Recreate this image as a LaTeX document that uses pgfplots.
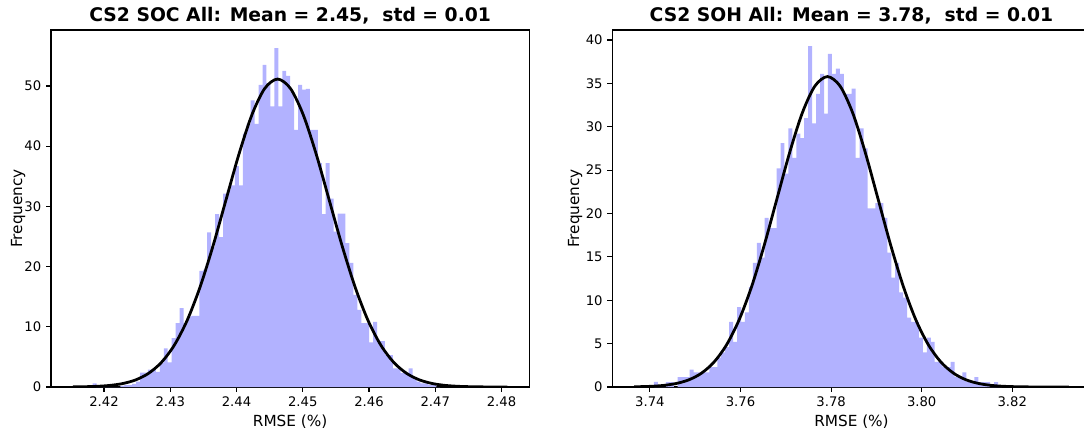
\documentclass[border=0pt]{standalone}
\usepackage{pgfplots}
\pgfplotsset{compat=1.18}
\usepackage{fontspec}
\setmainfont{DejaVu Sans}
\definecolor{histblue}{RGB}{178,178,255}
\pgfplotsset{
  mystyle/.style={
    scale only axis,
    width=344.4pt, height=257.04pt,
    anchor=south west,
    ymin=0,
    axis line style={line width=0.8pt, black},
    tick align=outside, tick pos=left,
    major tick length=3.5pt,
    every tick/.style={black, line width=0.8pt},
    /pgf/number format/assume math mode=true,
    tick label style={font=\fontsize{9.5}{11}\selectfont},
    scaled x ticks=false, scaled y ticks=false,
    xticklabel style={/pgf/number format/fixed, /pgf/number format/precision=2, /pgf/number format/fixed zerofill},
    label style={font=\fontsize{11}{13}\selectfont},
    title style={font=\fontsize{13.5}{15}\selectfont\bfseries, at={(axis description cs:0.5,1)}, anchor=base},
    xlabel style={at={(axis description cs:0.5,0)}, anchor=base, yshift=-28.5pt},
  }
}
\begin{document}
\begin{tikzpicture}
\path[use as bounding box] (0,0) rectangle (780.48pt,313.2pt);
% ---------------- Left: SOC ----------------
\begin{axis}[mystyle, at={(36.72pt,34.56pt)},
  xmin=2.4120, xmax=2.4842, ymax=59.3,
  xtick={2.42,2.43,2.44,2.45,2.46,2.47,2.48},
  ytick={0,10,20,30,40,50},
  ylabel style={at={(axis description cs:-0.0606,0.5)}, anchor=base},
  title={CS2 SOC All: Mean = 2.45,\ \ std = 0.01},
  xlabel={RMSE (\%)}, ylabel={Frequency}]
\addplot[fill=histblue, draw=none, const plot] coordinates {
(2.41830,0.6) (2.41890,0) (2.41949,0) (2.42009,0) (2.42068,0)
(2.42128,0) (2.42188,0) (2.42247,0.2) (2.42307,0.3) (2.42366,0.3)
(2.42426,0.5) (2.42486,0.9) (2.42545,2.4) (2.42605,2.4) (2.42664,2.9)
(2.42724,2.9) (2.42784,2.5) (2.42843,4.0) (2.42903,6.4) (2.42962,4.1)
(2.43022,8.1) (2.43082,10.6) (2.43141,13.1) (2.43201,10.6) (2.43260,11.7)
(2.43320,11.8) (2.43380,11.8) (2.43439,19.3) (2.43499,19.5) (2.43558,25.7)
(2.43618,23.3) (2.43678,28.7) (2.43737,24.9) (2.43797,32.1) (2.43856,32.8)
(2.43916,33.5) (2.43976,36.7) (2.44035,33.5) (2.44095,42.1) (2.44154,43.7)
(2.44214,47.6) (2.44274,43.7) (2.44333,50.2) (2.44393,53.5) (2.44452,50.5)
(2.44512,46.6) (2.44572,56.3) (2.44631,46.6) (2.44691,52.5) (2.44750,51.7)
(2.44810,49.1) (2.44870,42.7) (2.44929,50.2) (2.44989,49.4) (2.45048,49.5)
(2.45108,42.7) (2.45168,42.7) (2.45227,37.2) (2.45287,28.7) (2.45346,37.2)
(2.45406,31.3) (2.45466,25.8) (2.45525,28.8) (2.45585,28.8) (2.45644,23.9)
(2.45704,20.6) (2.45764,15.3) (2.45823,12.8) (2.45883,10.6) (2.45942,10.6)
(2.46002,7.4) (2.46062,10.8) (2.46121,7.6) (2.46181,7.6) (2.46240,5.3)
(2.46300,5.3) (2.46360,3.1) (2.46419,3.1) (2.46479,2.3) (2.46538,2.3)
(2.46598,3.1) (2.46658,1.5) (2.46717,0.9) (2.46777,0.6) (2.46836,0.6)
(2.46896,0.3) (2.46956,0.3) (2.47015,0) (2.47075,0)
} \closedcycle;
\addplot[black, line width=2pt, smooth] coordinates {
(2.4153,0.021) (2.41695,0.046) (2.4189,0.112) (2.42085,0.260) (2.4228,0.568)
(2.42475,1.166) (2.4267,2.248) (2.42865,4.070) (2.4306,6.923) (2.43255,11.062)
(2.4345,16.606) (2.43645,23.418) (2.4384,31.024) (2.44035,38.610) (2.4423,45.140)
(2.44425,49.577) (2.4462,51.15) (2.44815,49.577) (2.4501,45.140) (2.45205,38.610)
(2.4540,31.024) (2.45595,23.418) (2.4579,16.606) (2.45985,11.062) (2.4618,6.923)
(2.46375,4.070) (2.4657,2.248) (2.46765,1.166) (2.4696,0.568) (2.47155,0.260)
(2.4735,0.112) (2.47545,0.046) (2.4774,0.017) (2.47935,0.006) (2.4809,0.003)
};
\end{axis}
% ---------------- Right: SOH ----------------
\begin{axis}[mystyle, at={(440.86pt,34.56pt)},
  xmin=3.7317, xmax=3.8373, ymax=41.15,
  xtick={3.74,3.76,3.78,3.80,3.82},
  ytick={0,5,10,15,20,25,30,35,40},
  ylabel style={at={(axis description cs:-0.0696,0.5)}, anchor=base},
  title={CS2 SOH All: Mean = 3.78,\ \ std = 0.01},
  xlabel={RMSE (\%)}, ylabel={Frequency}]
\addplot[fill=histblue, draw=none, const plot] coordinates {
(3.74090,0.6) (3.74177,0) (3.74265,0) (3.74352,0.57) (3.74439,0.57)
(3.74527,0) (3.74614,1.15) (3.74701,1.15) (3.74788,1.15) (3.74876,2.0)
(3.74963,1.7) (3.75050,1.7) (3.75138,1.7) (3.75225,1.7) (3.75312,2.3)
(3.75400,2.3) (3.75487,3.4) (3.75574,4.0) (3.75661,4.6) (3.75749,7.5)
(3.75836,5.2) (3.75923,9.2) (3.76011,7.5) (3.76098,8.6) (3.76185,11.5)
(3.76273,14.3) (3.76360,16.6) (3.76447,14.9) (3.76534,19.5) (3.76622,18.3)
(3.76709,18.3) (3.76796,25.2) (3.76884,28.1) (3.76971,24.6) (3.77058,29.8)
(3.77146,26.4) (3.77233,29.2) (3.77320,28.7) (3.77407,31.0) (3.77495,39.3)
(3.77582,30.4) (3.77669,33.8) (3.77757,36.1) (3.77844,31.5) (3.77931,38.4)
(3.78019,36.1) (3.78106,36.7) (3.78193,36.1) (3.78280,33.8) (3.78368,33.8)
(3.78455,34.4) (3.78542,26.4) (3.78630,29.8) (3.78717,27.5) (3.78804,20.6)
(3.78892,20.6) (3.78979,21.2) (3.79066,21.2) (3.79153,19.5) (3.79241,15.5)
(3.79328,12.6) (3.79415,14.3) (3.79503,10.9) (3.79590,10.3) (3.79677,8.0)
(3.79765,7.5) (3.79852,7.5) (3.79939,5.7) (3.80026,4.0) (3.80114,5.7)
(3.80201,5.2) (3.80288,2.9) (3.80376,2.9) (3.80463,2.3) (3.80550,2.3)
(3.80638,2.9) (3.80725,1.15) (3.80812,1.15) (3.80899,1.7) (3.80987,0.57)
(3.81074,0.57) (3.81161,1.15) (3.81249,0.57) (3.81336,0.57) (3.81423,0.57)
(3.81511,0) (3.81598,0.57) (3.81685,0) (3.81772,0)
} \closedcycle;
\addplot[black, line width=2pt, smooth] coordinates {
(3.7365,0.023) (3.74018,0.078) (3.74296,0.182) (3.74575,0.398) (3.74854,0.815)
(3.75133,1.572) (3.75411,2.847) (3.7569,4.842) (3.75969,7.738) (3.76248,11.616)
(3.76526,16.381) (3.76805,21.702) (3.77084,27.008) (3.77363,31.576) (3.77641,34.679)
(3.7792,35.78) (3.78199,34.679) (3.78478,31.576) (3.78756,27.008) (3.79035,21.702)
(3.79314,16.381) (3.79593,11.616) (3.79871,7.738) (3.8015,4.842) (3.80429,2.847)
(3.80708,1.572) (3.80986,0.815) (3.81265,0.398) (3.81544,0.182) (3.81823,0.078)
(3.82101,0.032) (3.8238,0.012) (3.82938,0.0014) (3.8325,0.0004)
};
\end{axis}
\end{tikzpicture}
\end{document}
